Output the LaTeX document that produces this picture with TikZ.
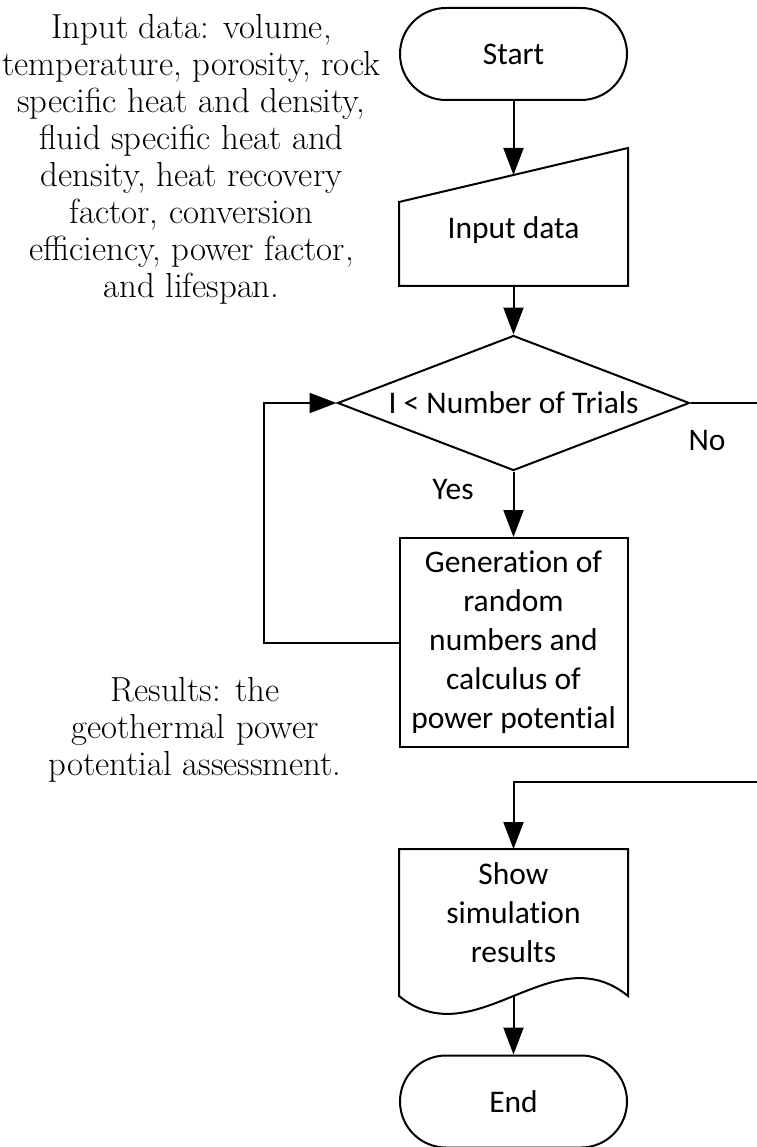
\documentclass[tikz,border=0pt]{standalone}
\usepackage{fontspec}
\newfontfamily\carlito[Ligatures=NoCommon]{Carlito}
\usetikzlibrary{shapes.geometric,shapes.misc,arrows.meta}
\begin{document}
\begin{tikzpicture}[x=1pt,y=-1pt, line width=2pt,
 sans/.style={font=\carlito\fontsize{31.5}{39}\selectfont},
 serif/.style={font=\fontsize{34.8}{37}\selectfont, align=center},
 term/.style={sans, draw, rounded rectangle, minimum width=227pt, minimum height=92pt, inner sep=0pt},
 proc/.style={sans, draw, rectangle, minimum width=228pt, minimum height=209pt, align=center, inner sep=0pt},
 flow/.style={-{Triangle[length=27pt,width=20pt]}},
 ]
\fill[white] (0,0) rectangle (756,1147);
\useasboundingbox (0,0) rectangle (756,1147);

\node[term] (start) at (513.5,54) {Start};
\node[sans, minimum width=227pt, minimum height=109pt, inner sep=0pt] (inp) at (513.5,230.5) {Input data};
\draw (inp.south west) -- (inp.south east) -- ([yshift=27pt]inp.north east) -- ([yshift=-27pt]inp.north west) -- cycle;

\node[sans, draw, diamond, aspect=2.6, minimum width=352pt, minimum height=135pt, inner sep=0pt] (dec) at (513.5,403) {I < Number of Trials};

\node[proc] (gen) at (513.5,642.5) {Generation of\\ random\\ numbers and\\ calculus of\\ power potential};

\node[sans, align=center, minimum width=227pt, minimum height=126pt, inner sep=0pt] (doc) at (513.5,913) {Show\\ simulation\\ results};
\draw (doc.north west) -- (doc.north east) -- ([yshift=-19pt]doc.south east) .. controls +(-76,-62) and +(76,62) .. ([yshift=-19pt]doc.south west) -- cycle;

\node[term] (end) at (513.5,1101.5) {End};

\coordinate (rt) at (762,782);

\draw[flow] (start) -- (inp.north);
\draw[flow] (inp.south) -- (dec.north);
\draw[flow] (dec.south) -- (gen.north);
\draw[flow] (gen.west) -- ++(-135,0) |- (dec.west);
\draw[flow] (dec.east) -| (rt) -| (doc.north);
\draw[flow] ([yshift=-19pt]doc.south) -- (end.north);

\node[sans] (yes) at (453,490) {Yes};
\node[sans] (no) at (707,440) {No};

\node[serif] (intxt) at (191.5,159) {Input data: volume,\\ temperature, porosity, rock\\ specific heat and density,\\ fluid specific heat and\\ density, heat recovery\\ factor, conversion\\ efficiency, power factor,\\ and lifespan.};
\node[serif] (restxt) at (195,730) {Results: the\\ geothermal power\\ potential assessment.};
\end{tikzpicture}
\end{document}
